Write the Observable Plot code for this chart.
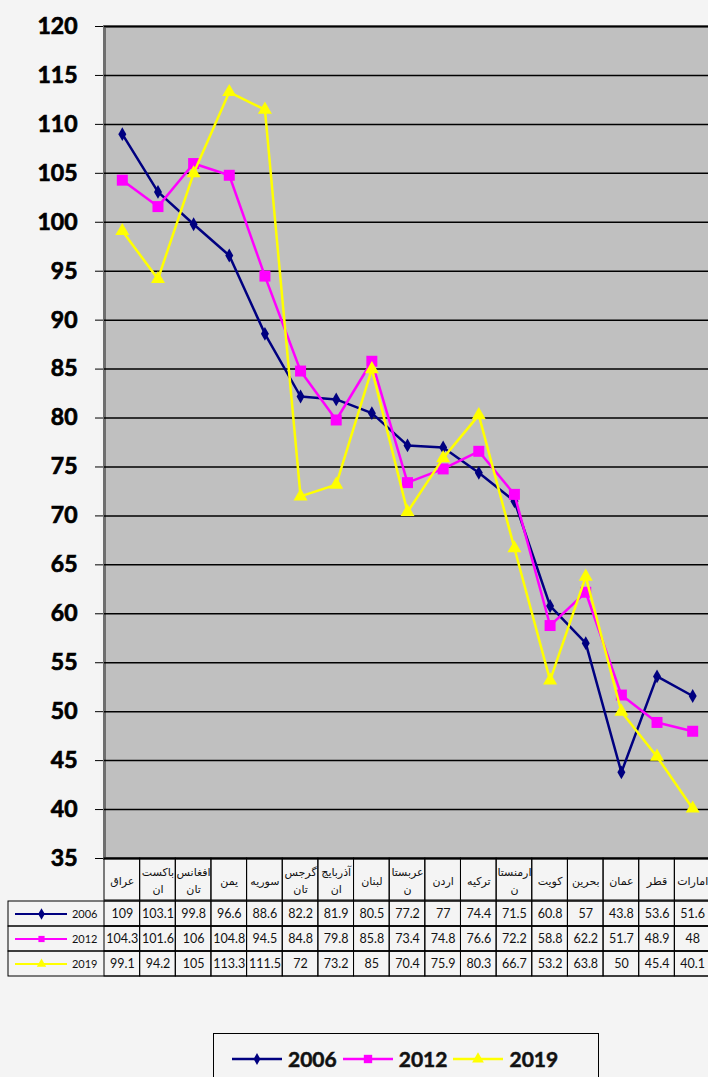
<!DOCTYPE html>
<html>
<head>
<meta charset="utf-8">
<script src="https://cdn.jsdelivr.net/npm/d3@7"></script>
<script src="https://cdn.jsdelivr.net/npm/@observablehq/plot@0.6"></script>
<style>
  html, body { margin: 0; padding: 0; background: #f4f4f4; }
  #wrap { position: relative; width: 708px; height: 1077px; overflow: hidden; background: #f4f4f4; }
  #wrap svg { position: absolute; left: 0; overflow: visible; }
  #chart g[aria-label="y-axis tick label"] text { stroke: #000; stroke-width: 0.7px; }
  #legend { position: absolute; left: 213px; top: 1033px; width: 386px; height: 60px; border: 1px solid #000; box-sizing: border-box; display: flex; align-items: flex-start; padding-top: 12px; padding-left: 18px; font-family: Lato, sans-serif; font-weight: 700; font-size: 21px; color: #111; -webkit-text-stroke: 0.5px #111; }
  .key { display: flex; align-items: center; margin-right: 6px; }
  .key svg { position: static !important; margin-right: 6px; }
</style>
</head>
<body>
<div id="wrap"></div>
<script>
const categories = ["عراق","باکستان","افغانستان","یمن","سوریه","گرجستان","آذربایجان","لبنان","عربستان","اردن","ترکیه","ارمنستان","کویت","بحرین","عمان","قطر","امارات"];
const headerLabels = ["عراق","باکست\nان","افغانس\nتان","یمن","سوریه","گرجس\nتان","آذربایج\nان","لبنان","عربستا\nن","اردن","ترکیه","ارمنستا\nن","کویت","بحرین","عمان","قطر","امارات"];
const years = ["2006","2012","2019"];
const values2006 = [109,103.1,99.8,96.6,88.6,82.2,81.9,80.5,77.2,77,74.4,71.5,60.8,57,43.8,53.6,51.6];
const values2012 = [104.3,101.6,106,104.8,94.5,84.8,79.8,85.8,73.4,74.8,76.6,72.2,58.8,62.2,51.7,48.9,48];
const values2019 = [99.1,94.2,105,113.3,111.5,72,73.2,85,70.4,75.9,80.3,66.7,53.2,63.8,50,45.4,40.1];
const yTicks = [35,40,45,50,55,60,65,70,75,80,85,90,95,100,105,110,115,120];
const colors = ["#000080","#ff00ff","#ffff00"];
const symbols = ["diamond","square","triangle"];

const seriesValues = [values2006, values2012, values2019];
const rows = [];
years.forEach((yr, s) => categories.forEach((c, i) => rows.push({year: yr, cat: c, value: seriesValues[s][i]})));

const wrap = document.getElementById("wrap");
const xRange = [104, 710];

// Main chart
const chartMarks = [
  Plot.frame({fill: "#c0c0c0", stroke: "#6e6e6e", strokeWidth: 3, insetRight: -6}),
  Plot.ruleY(yTicks, {stroke: "#000", strokeWidth: 1.5, insetRight: -6})
];
years.forEach((yr, s) => {
  const d = rows.filter(r => r.year === yr);
  chartMarks.push(Plot.line(d, {x: "cat", y: "value", stroke: colors[s], strokeWidth: 2.5}));
  chartMarks.push(Plot.dot(d, {x: "cat", y: "value", fill: colors[s], stroke: "none", symbol: symbols[s], r: [4.2, 6.2, 5.2][s]}));
});
const chart = Plot.plot({
  width: 708, height: 870,
  marginTop: 26, marginBottom: 12, marginLeft: 104, marginRight: 0,
  style: {background: "transparent", fontFamily: "Lato, sans-serif", fontSize: "23px", fontWeight: "700", color: "#000", overflow: "visible"},
  x: {type: "band", domain: categories, range: xRange, padding: 0, round: false, axis: null},
  y: {domain: [35, 120], ticks: yTicks, tickSize: 9, tickPadding: 18, label: null},
  marks: chartMarks
});
chart.id = "chart";
chart.style.top = "0px";
wrap.appendChild(chart);

// Table header
const header = Plot.plot({
  width: 708, height: 42,
  marginTop: 0, marginBottom: 0, marginLeft: 104, marginRight: 0,
  style: {background: "transparent", fontFamily: "'DejaVu Sans', sans-serif", fontSize: "11px", color: "#111", overflow: "visible"},
  x: {type: "band", domain: categories, range: xRange, padding: 0, round: false, axis: null},
  marks: [
    Plot.cell(categories, {x: d => d, stroke: "#000", strokeWidth: 1, fill: "none"}),
    Plot.text(categories, {x: d => d, text: (d, i) => headerLabels[i], lineHeight: 1.55, fill: "#111"})
  ]
});
header.style.top = "858px";
wrap.appendChild(header);

// Table body
const body = Plot.plot({
  width: 708, height: 78,
  marginTop: 1, marginBottom: 2, marginLeft: 8, marginRight: 0,
  style: {background: "transparent", fontFamily: "Lato, sans-serif", fontSize: "12.5px", color: "#111", overflow: "visible"},
  x: {type: "band", domain: categories, range: xRange, padding: 0, round: false, axis: null},
  y: {type: "band", domain: years, padding: 0, round: false, axis: null},
  color: {domain: years, range: colors},
  marks: [
    Plot.cell(years, {y: d => d, stroke: "#000", strokeWidth: 1, fill: "none", insetRight: -4}),
    Plot.cell(rows, {x: "cat", y: "year", stroke: "#000", strokeWidth: 1, fill: "none"}),
    Plot.text(rows, {x: "cat", y: "year", text: d => String(d.value), fill: "#111"}),
    Plot.ruleY(years, {y: d => d, stroke: d => d, strokeWidth: 2, insetLeft: 7, insetRight: 641}),
    Plot.dot(years, {y: d => d, frameAnchor: "left", dx: 33, fill: d => d, stroke: "none", symbol: (d, i) => symbols[i], r: 3.5}),
    Plot.text(years, {y: d => d, frameAnchor: "left", dx: 89, textAnchor: "end", text: d => d, fontSize: 11, fill: "#111"})
  ]
});
body.style.top = "900px";
wrap.appendChild(body);

// Legend
const legend = document.createElement("div");
legend.id = "legend";
years.forEach((yr, s) => {
  const k = document.createElement("div");
  k.className = "key";
  const svg = d3.create("svg").attr("width", 50).attr("height", 16);
  svg.append("line").attr("x1", 0).attr("x2", 50).attr("y1", 8).attr("y2", 8).attr("stroke", colors[s]).attr("stroke-width", 2.5);
  const sym = [d3.symbolDiamond, d3.symbolSquare, d3.symbolTriangle][s];
  svg.append("path").attr("transform", "translate(25,8)").attr("d", d3.symbol(sym, [40, 70, 60][s])()).attr("fill", colors[s]);
  k.appendChild(svg.node());
  const t = document.createElement("span");
  t.textContent = yr;
  k.appendChild(t);
  legend.appendChild(k);
});
wrap.appendChild(legend);
</script>
</body>
</html>
